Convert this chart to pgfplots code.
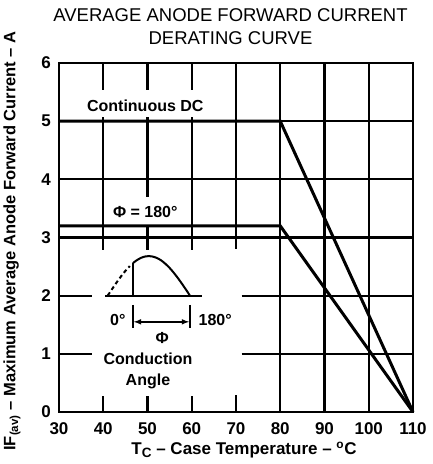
\documentclass[border=0pt]{standalone}
\usepackage{fontspec}
\setmainfont{Liberation Sans}
\usepackage{pgfplots}
\pgfplotsset{compat=1.18}
\begin{document}
\begin{tikzpicture}
\useasboundingbox (-59pt,-52pt) rectangle (374pt,412pt);
\begin{axis}[
  at={(0pt,0pt)}, anchor=south west,
  scale only axis, width=354pt, height=349pt,
  xmin=30, xmax=110, ymin=0, ymax=6,
  xtick={30,40,...,110}, ytick={0,1,...,6},
  tick style={draw=none},
  axis line style={line width=2.2pt},
  /pgf/number format/assume math mode=true,
  ticklabel style={font=\fontsize{17}{17}\selectfont\bfseries},
  xticklabel style={anchor=center, yshift=-17pt},
  yticklabel style={anchor=center, xshift=-13pt},
  clip=false,
]
% partial grid (vertical segments, as thin filled bars)
\addplot[forget plot, fill=black, draw=none] coordinates {(39.75,6) (40.25,6) (40.25,5.53) (39.75,5.53)} -- cycle;
\addplot[forget plot, fill=black, draw=none] coordinates {(49.75,6) (50.25,6) (50.25,5.53) (49.75,5.53)} -- cycle;
\addplot[forget plot, fill=black, draw=none] coordinates {(59.75,6) (60.25,6) (60.25,5.53) (59.75,5.53)} -- cycle;
\addplot[forget plot, fill=black, draw=none] coordinates {(39.75,5.08) (40.25,5.08) (40.25,2.78) (39.75,2.78)} -- cycle;
\addplot[forget plot, fill=black, draw=none] coordinates {(49.75,5.08) (50.25,5.08) (50.25,3.69) (49.75,3.69)} -- cycle;
\addplot[forget plot, fill=black, draw=none] coordinates {(49.75,3.2) (50.25,3.2) (50.25,2.78) (49.75,2.78)} -- cycle;
\addplot[forget plot, fill=black, draw=none] coordinates {(59.75,5.08) (60.25,5.08) (60.25,2.78) (59.75,2.78)} -- cycle;
\addplot[forget plot, fill=black, draw=none] coordinates {(69.75,6) (70.25,6) (70.25,2.8) (69.75,2.8)} -- cycle;
\addplot[forget plot, fill=black, draw=none] coordinates {(39.75,0) (40.25,0) (40.25,0.27) (39.75,0.27)} -- cycle;
\addplot[forget plot, fill=black, draw=none] coordinates {(49.75,0) (50.25,0) (50.25,0.27) (49.75,0.27)} -- cycle;
\addplot[forget plot, fill=black, draw=none] coordinates {(59.75,0) (60.25,0) (60.25,0.27) (59.75,0.27)} -- cycle;
\addplot[forget plot, fill=black, draw=none] coordinates {(69.75,0) (70.25,0) (70.25,0.3) (69.75,0.3)} -- cycle;
% full vertical grid lines
\addplot[forget plot, black, line width=2.2pt] coordinates {(80,0) (80,6)};
\addplot[forget plot, black, line width=2.2pt] coordinates {(90,0) (90,6)};
\addplot[forget plot, black, line width=2.2pt] coordinates {(100,0) (100,6)};
% horizontal grid segments
\addplot[forget plot, black, line width=2.2pt] coordinates {(30,5) (110,5)};
\addplot[forget plot, black, line width=2.2pt] coordinates {(30,4) (110,4)};
\addplot[forget plot, black, line width=2.2pt] coordinates {(30,3) (110,3)};
\addplot[forget plot, black, line width=2.2pt] coordinates {(30,2) (37.5,2)};
\addplot[forget plot, black, line width=2.2pt] coordinates {(71.3,2) (110,2)};
\addplot[forget plot, black, line width=2.2pt] coordinates {(30,1) (37.5,1)};
\addplot[forget plot, black, line width=2.2pt] coordinates {(71.3,1) (110,1)};
% derating curves
\addplot[black, line width=3pt] coordinates {(30,5) (80,5) (110,0)};
\addplot[black, line width=3pt] coordinates {(30,3.2) (80,3.2) (110,0)};
% inset waveform
\addplot[black, line width=2pt] coordinates {(40.4,2) (62.3,2)};
\addplot[black, line width=2pt, dash pattern=on 4pt off 3pt] coordinates {(41,2.0) (42,2.114) (43,2.225) (44,2.330) (45,2.425) (46,2.509)};
\addplot[black, line width=2pt] coordinates {(46.7,2) (46.7,2.558)};
\addplot[black, line width=2pt, smooth] coordinates {(46.7,2.558) (47.5,2.605) (48.5,2.649) (49.5,2.674) (50.3,2.68) (51,2.675) (52,2.652) (53,2.611) (54,2.551) (55,2.477) (56,2.388) (57,2.289) (58,2.182) (59,2.069) (59.6,2.0)};
\addplot[black, line width=2pt] coordinates {(46.7,1.84) (46.7,1.44)};
\addplot[black, line width=2pt] coordinates {(59.6,1.84) (59.6,1.44)};
\draw[black, line width=1.5pt, <->, >=latex] (axis cs:46.9,1.55) -- (axis cs:59.4,1.55);
% labels
\begin{scope}[every node/.style={font=\fontsize{16}{16}\selectfont\bfseries}]
\node at (axis cs:49.5,5.26) {Continuous DC};
\node at (axis cs:49.5,3.44) {Φ = 180°};
\node at (axis cs:43.3,1.58) {0°};
\node at (axis cs:65.3,1.58) {180°};
\node at (axis cs:53.3,1.27) {Φ};
\node at (axis cs:50.1,0.91) {Conduction};
\node at (axis cs:50.1,0.53) {Angle};
\end{scope}
\end{axis}
\node[font=\fontsize{18.5}{18.5}\selectfont] at (171.5pt,396.5pt) {AVERAGE ANODE FORWARD CURRENT};
\node[font=\fontsize{18.5}{18.5}\selectfont] at (171.5pt,373.5pt) {DERATING CURVE};
\node[font=\fontsize{16.5}{16.5}\selectfont\bfseries, rotate=90] at (-47pt,171pt) {IF\textsubscript{(av)} -- Maximum Average Anode Forward Current -- A};
\node[font=\fontsize{17}{17}\selectfont\bfseries] at (185pt,-38pt) {T\raisebox{-2.5pt}{\fontsize{13.5}{13.5}\selectfont C} -- Case Temperature -- \textsuperscript{o}C};
\end{tikzpicture}
\end{document}
